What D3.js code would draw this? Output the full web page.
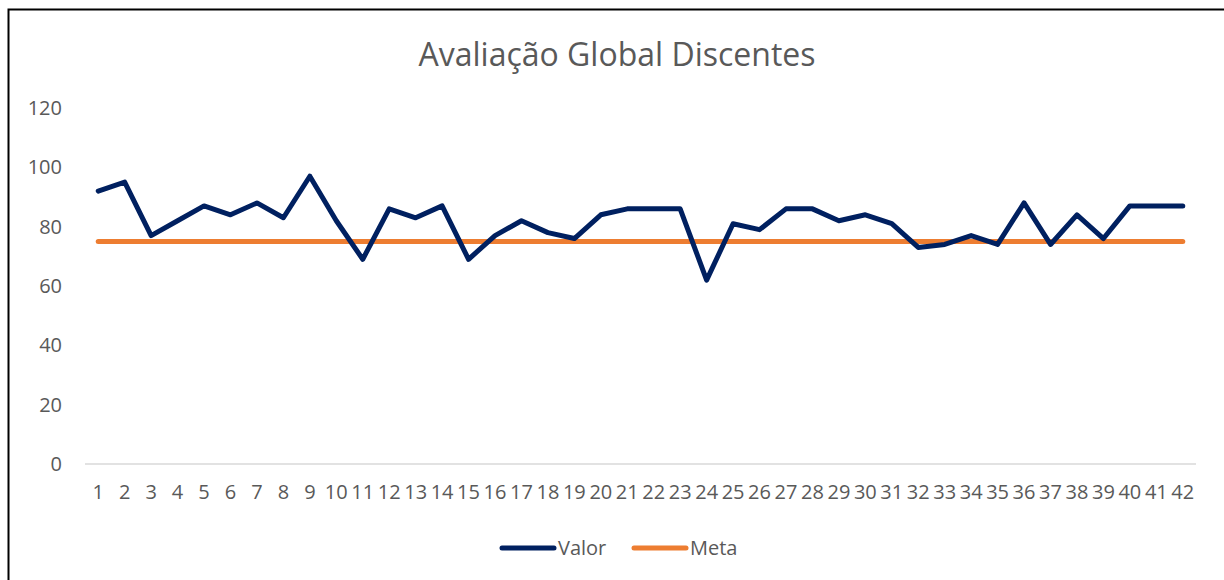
<!DOCTYPE html>
<meta charset="utf-8">
<style>
body { margin: 0; background: #fff; font-family: 'Open Sans', sans-serif; }
text { fill: #595959; }
.axis path, .axis line { stroke: none; }
.axis text { font-size: 20px; font-family: 'Open Sans', sans-serif; }
.baseline { stroke: #d9d9d9; stroke-width: 1.5px; }
.valor-line { fill: none; stroke: #002060; stroke-width: 5px; stroke-linejoin: round; stroke-linecap: round; }
.meta-line { fill: none; stroke: #ED7D31; stroke-width: 5px; stroke-linecap: round; }
.title { font-size: 32px; text-anchor: middle; }
.legend text { font-size: 20px; }
</style>
<body>
<svg width="1224" height="580"></svg>
<script src="https://d3js.org/d3.v7.min.js"></script>
<script>
var categories = d3.range(1, 43);
var valor = [92, 95, 77, 82, 87, 84, 88, 83, 97, 82,
             69, 86, 83, 87, 69, 77, 82, 78, 76, 84,
             86, 86, 86, 62, 81, 79, 86, 86, 82, 84,
             81, 73, 74, 77, 74, 88, 74, 84, 76, 87,
             87, 87];
var meta = categories.map(function() { return 75; });
var yTicks = [0, 20, 40, 60, 80, 100, 120];

var svg = d3.select("svg"),
    margin = {top: 108, right: 28, bottom: 116, left: 85},
    width = +svg.attr("width") - margin.left - margin.right,
    height = +svg.attr("height") - margin.top - margin.bottom;

// outer frame
svg.append("rect")
    .attr("x", 8.5).attr("y", 9.5)
    .attr("width", 1230).attr("height", 600)
    .attr("fill", "none").attr("stroke", "#000").attr("stroke-width", 2);

svg.append("text")
    .attr("class", "title")
    .attr("x", 617).attr("y", 66)
    .text("Avaliação Global Discentes");

var x = d3.scaleBand().domain(categories).range([0, width]);
var y = d3.scaleLinear().domain([0, 120]).range([height, 0]);

var g = svg.append("g")
    .attr("transform", "translate(" + margin.left + "," + margin.top + ")");

g.append("line")
    .attr("class", "baseline")
    .attr("x1", 0).attr("x2", width)
    .attr("y1", y(0)).attr("y2", y(0));

g.append("g")
    .attr("class", "axis axis--y")
    .attr("transform", "translate(-23,0)")
    .call(d3.axisLeft(y).tickValues(yTicks).tickSize(0).tickPadding(0));

g.append("g")
    .attr("class", "axis axis--x")
    .attr("transform", "translate(0," + height + ")")
    .call(d3.axisBottom(x).tickSize(0).tickPadding(21));

var cx = function(d, i) { return x(categories[i]) + x.bandwidth() / 2; };

g.append("path")
    .datum(meta)
    .attr("class", "meta-line")
    .attr("d", d3.line().x(cx).y(function(d) { return y(d); }));

g.append("path")
    .datum(valor)
    .attr("class", "valor-line")
    .attr("d", d3.line().x(cx).y(function(d) { return y(d); }));

// legend
var legend = svg.append("g").attr("class", "legend");
var items = [{name: "Valor", cls: "valor-line", x: 500}, {name: "Meta", cls: "meta-line", x: 632}];
items.forEach(function(it) {
  legend.append("line").attr("class", it.cls)
      .attr("x1", it.x + 2).attr("x2", it.x + 54)
      .attr("y1", 548).attr("y2", 548);
  legend.append("text")
      .attr("x", it.x + 58).attr("y", 548).attr("dy", "0.35em")
      .text(it.name);
});
</script>
